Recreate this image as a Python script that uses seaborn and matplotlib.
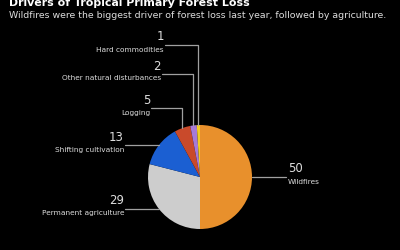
import numpy as np
import matplotlib
matplotlib.use("Agg")
import matplotlib.pyplot as plt
import seaborn as sns

categories = ["Wildfires", "Permanent agriculture", "Shifting cultivation",
              "Logging", "Other natural disturbances", "Hard commodities"]
values = [50, 29, 13, 5, 2, 1]
colors = ["#E8902C", "#CDCDCD", "#1B5FD2", "#C94A2B", "#A67AD8", "#F3CB22"]

title = "Drivers of Tropical Primary Forest Loss"
subtitle = "Wildfires were the biggest driver of forest loss last year, followed by agriculture."

sns.set_theme(style="dark")
plt.rcParams["font.family"] = ["DejaVu Sans"]

W, H = 400, 250
fig = plt.figure(figsize=(4, 2.5), dpi=100, facecolor="black")
ax = fig.add_axes([0, 0, 1, 1])
ax.set_facecolor("black")

cx, cy, r = 200, H - 177, 52
wedges, _ = ax.pie(values, colors=colors, startangle=90, counterclock=False,
                   center=(cx, cy), radius=r, frame=True,
                   wedgeprops=dict(linewidth=0))
ax.set_xlim(0, W)
ax.set_ylim(0, H)
ax.set_aspect("equal")
ax.axis("off")

line_c = "#a0a0a0"
text_c = "#dddddd"
# label layout: (side, label line y in px from top, label x end)
layout = {
    "Wildfires": ("right", None, 286),
    "Permanent agriculture": ("left", None, 125),
    "Shifting cultivation": ("left", None, 125),
    "Logging": ("left", 108, 151),
    "Other natural disturbances": ("left", 74, 162),
    "Hard commodities": ("left", 45, 165),
}
for w, cat, val in zip(wedges, categories, values):
    mid = np.deg2rad((w.theta1 + w.theta2) / 2)
    ex, ey = cx + r * np.cos(mid), cy + r * np.sin(mid)
    side, ly, lx = layout[cat]
    if ly is None:
        yy = ey
        ax.plot([ex, lx], [yy, yy], color=line_c, lw=0.9)
    else:
        yy = H - ly
        ax.plot([ex, ex, lx], [ey, yy, yy], color=line_c, lw=0.9)
    ha = "left" if side == "right" else "right"
    tx = lx + 2 if side == "right" else lx - 1
    ax.text(tx, yy + 1.5, str(val), ha=ha, va="bottom", color=text_c,
            fontsize=8.5)
    ax.text(tx, yy - 1.5, cat, ha=ha, va="top", color=text_c, fontsize=5.3)

fig.text(9 / W, 1 - 6 / H, title, ha="left", va="baseline", color="white",
         fontsize=7.9, fontweight="bold")
fig.text(9 / W, 1 - 17.5 / H, subtitle, ha="left", va="baseline", color="#dddddd",
         fontsize=6.75)

fig.savefig("out.png", dpi=100, facecolor="black")
